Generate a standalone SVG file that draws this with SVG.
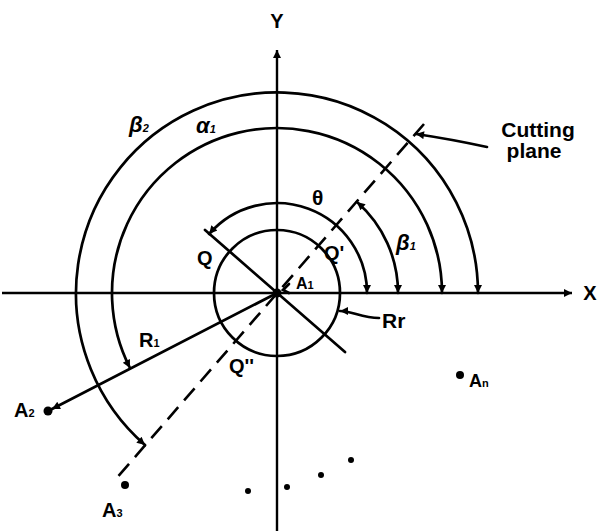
<svg xmlns="http://www.w3.org/2000/svg" width="598" height="531" viewBox="0 0 598 531">
<style>
.ln{fill:none;stroke:#000;stroke-width:2.7;stroke-linecap:round}
.ax{fill:none;stroke:#000;stroke-width:2.4}
.dash{fill:none;stroke:#000;stroke-width:2.6;stroke-dasharray:16 9}
.arr{marker-start:url(#ah);marker-end:url(#ah)}
.t{font-family:"Liberation Sans",Arial,sans-serif;font-weight:bold;font-size:20px;fill:#000}
.g{font-style:italic;font-size:22px}
.s{font-size:11px}
.dot{fill:#000}
</style>
<defs>
<marker id="ah" viewBox="0 0 10 10" refX="10" refY="5" markerUnits="userSpaceOnUse" markerWidth="13" markerHeight="8" orient="auto-start-reverse">
<path d="M0,0 L10,5 L0,10 z" fill="#000"/>
</marker>
</defs>
<g id="connectors">
<path id="x-axis" class="ax" d="M2,293 H572" marker-end="url(#ah)"/>
<path id="y-axis" class="ax" d="M277,531 V50" marker-end="url(#ah)"/>
<path id="cutting-line" class="dash" d="M424,124 L115,480"/>
<path id="q-line" class="ln" d="M205,230 L345,352"/>
<path id="r1-line" class="ln" d="M277,293 L52,409" marker-end="url(#ah)"/>
<path id="theta-arc" class="ln arr" d="M367,293 A90,90 0 0 0 209.1,234"/>
<path id="beta1-arc" class="ln arr" d="M398,293 A121,121 0 0 0 357,202"/>
<path id="alpha1-arc" class="ln arr" d="M442,293 A165,165 0 1 0 130,368"/>
<path id="beta2-arc" class="ln arr" d="M478,293 A201,201 0 1 0 145,445"/>
<path id="cutting-leader" class="ln" d="M487,147 Q450,139 416,134" marker-end="url(#ah)"/>
<path id="rr-leader" class="ln" d="M379,318 C362,318 352,311 340,311" marker-end="url(#ah)"/>
<path id="a1-leader" class="ln" d="M289,284 L283,290 L289,293"/>
</g>
<g id="circle-Rr"><circle cx="277" cy="293" r="63" class="ln"/></g>
<g id="center"><circle cx="277" cy="293" r="4.5" class="dot"/></g>
<g id="labels">
<text class="t" x="277" y="28" text-anchor="middle">Y</text>
<text class="t" x="590" y="300" text-anchor="middle">X</text>
<text class="t" x="538" y="137" text-anchor="middle" style="font-size:21px">Cutting</text>
<text class="t" x="534" y="158" text-anchor="middle" style="font-size:21px">plane</text>
<text class="t g" x="129" y="132">β<tspan class="s">2</tspan></text>
<text class="t g" x="196" y="133">α<tspan class="s">1</tspan></text>
<text class="t g" x="396" y="250">β<tspan class="s">1</tspan></text>
<text class="t" x="312" y="205" style="font-size:21px">θ</text>
<text class="t" x="197" y="265">Q</text>
<text class="t" x="324" y="260">Q'</text>
<text class="t" x="229" y="373">Q''</text>
<text class="t" x="296" y="289" style="font-size:16px">A<tspan class="s">1</tspan></text>
<text class="t" x="382" y="328" style="font-size:21px">Rr</text>
<text class="t" x="139" y="347">R<tspan class="s">1</tspan></text>
<text class="t" x="14" y="417">A<tspan class="s">2</tspan></text>
<text class="t" x="102" y="517">A<tspan class="s">3</tspan></text>
<text class="t" x="469" y="387" style="font-size:18px">A<tspan class="s">n</tspan></text>
</g>
<g id="points">
<circle cx="48" cy="411" r="4.5" class="dot"/>
<circle cx="125" cy="485" r="4" class="dot"/>
<circle cx="460" cy="375" r="4" class="dot"/>
<circle cx="248" cy="491" r="3" class="dot"/>
<circle cx="287" cy="487" r="3" class="dot"/>
<circle cx="321" cy="475" r="3" class="dot"/>
<circle cx="351" cy="460" r="3" class="dot"/>
</g>
</svg>
